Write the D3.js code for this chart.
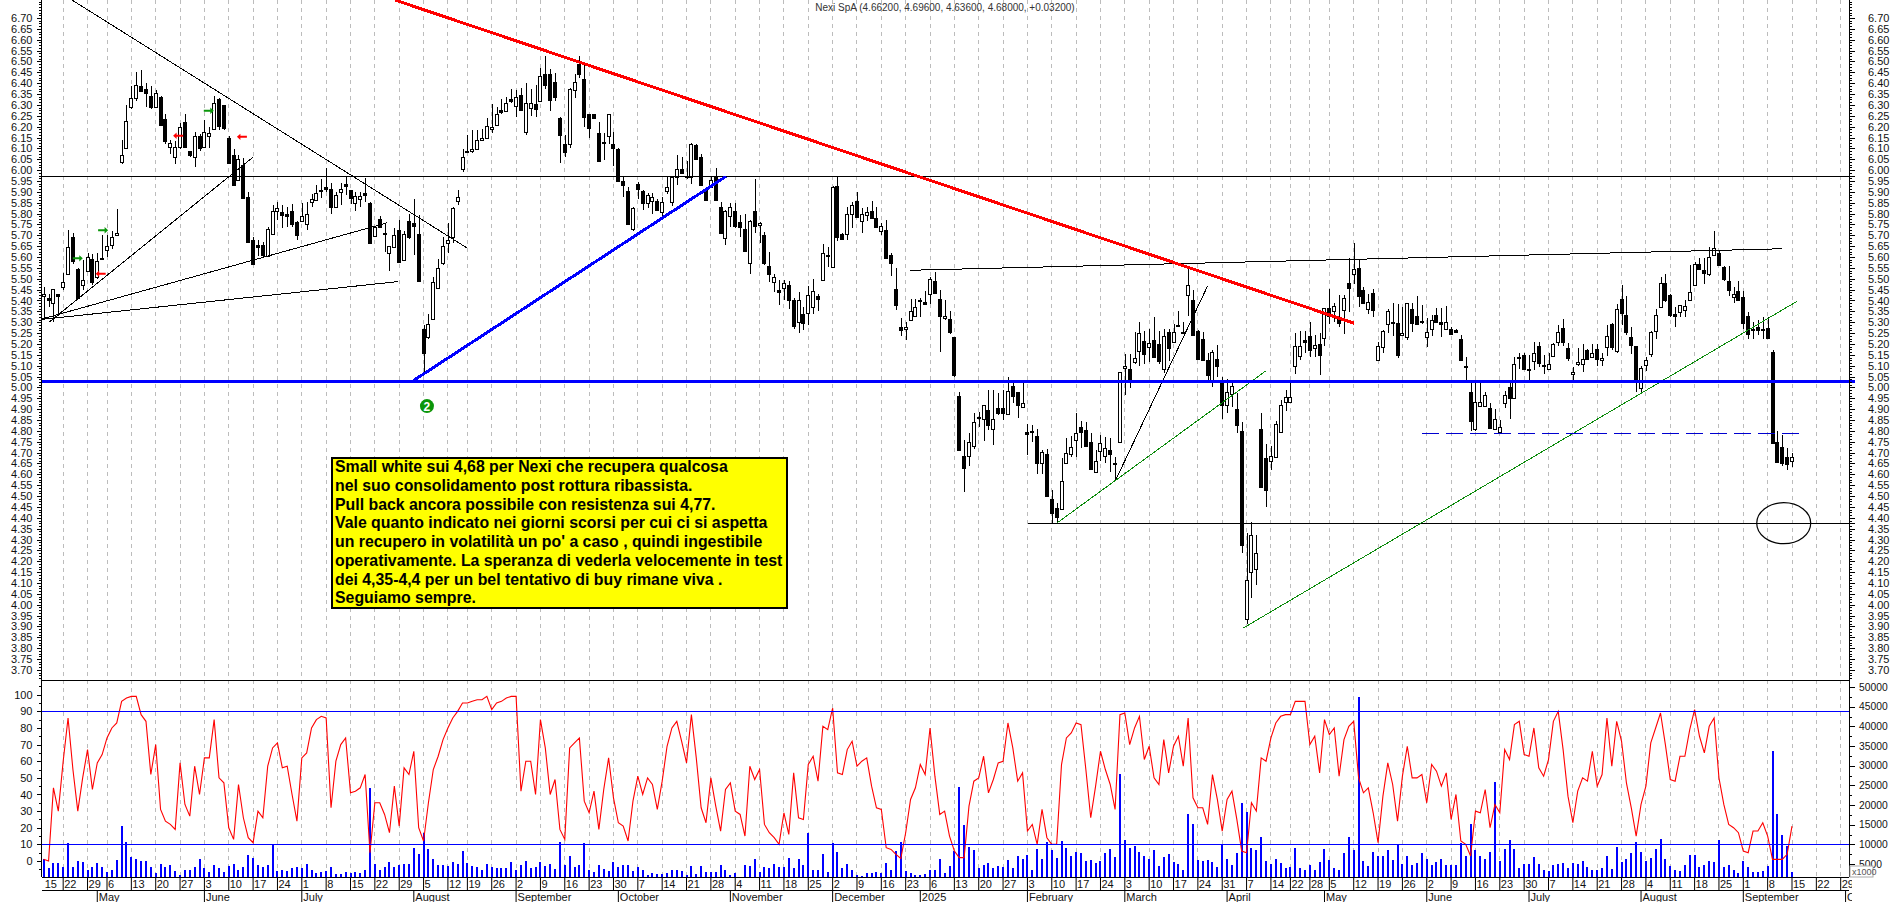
<!DOCTYPE html>
<html>
<head>
<meta charset="utf-8">
<title>Nexi SpA</title>
<script src="https://d3js.org/d3.v7.min.js"></script>
<style>
  html, body { margin: 0; padding: 0; background: #fff; }
  svg { display: block; }
  text { font-family: "Liberation Sans", Arial, sans-serif; fill: #111; }
  .tick text { font-size: 11px; }
  .vol .tick text { font-size: 10.3px; }
  .domain { stroke: #000; }
</style>
</head>
<body>
<div id="chart"></div>
<script>
// candles, one entry per trading day (15 Apr 2024 -> 15 Sep 2025)
const opens = [
  5.42,5.41,5.39,5.43,5.46,5.52,5.69,5.545,5.47,5.535,
  5.59,5.505,5.59,5.63,5.655,5.70,6.04,6.10,6.29,6.33,
  6.385,6.375,6.34,6.29,6.335,6.235,6.105,6.06,6.11,6.22,
  6.09,6.06,6.155,6.105,6.155,6.19,6.325,6.30,6.15,6.07,
  5.955,6.025,5.875,5.68,5.655,5.655,5.605,5.705,5.81,5.805,
  5.80,5.81,5.76,5.765,5.755,5.85,5.865,5.91,5.92,5.915,
  5.83,5.90,5.935,5.91,5.85,5.865,5.895,5.85,5.70,5.775,
  5.71,5.62,5.645,5.725,5.585,5.765,5.755,5.705,5.27,5.23,
  5.315,5.46,5.57,5.665,5.69,5.855,6.005,6.09,6.085,6.10,
  6.14,6.15,6.19,6.21,6.275,6.275,6.325,6.295,6.345,6.175,
  6.285,6.305,6.32,6.44,6.44,6.405,6.24,6.12,6.12,6.37,
  6.49,6.42,6.26,6.26,6.17,6.13,6.16,6.12,6.095,5.95,
  5.905,5.73,5.935,5.905,5.85,5.855,5.86,5.81,5.90,5.855,
  5.97,6.005,5.975,5.97,6.115,6.06,5.91,5.925,5.97,5.83,
  5.685,5.79,5.81,5.76,5.73,5.57,5.81,5.745,5.70,5.56,
  5.485,5.45,5.455,5.47,5.40,5.30,5.34,5.34,5.37,5.42,
  5.495,5.61,5.55,5.925,5.705,5.71,5.80,5.86,5.77,5.79,
  5.81,5.78,5.72,5.725,5.61,5.455,5.28,5.27,5.31,5.33,
  5.395,5.395,5.43,5.49,5.405,5.32,5.315,5.23,4.96,4.685,
  4.685,4.73,4.865,4.855,4.895,4.81,4.905,4.905,4.88,5.005,
  4.98,4.91,4.795,4.80,4.775,4.655,4.695,4.485,4.445,4.44,
  4.655,4.695,4.76,4.82,4.805,4.75,4.61,4.71,4.685,4.71,
  4.65,4.75,5.09,5.085,5.115,5.165,5.215,5.185,5.22,5.20,
  5.085,5.255,5.21,5.285,5.255,5.425,5.40,5.26,5.225,5.125,
  5.035,5.13,5.025,4.92,4.97,4.90,4.80,3.935,4.15,4.165,
  4.81,4.675,4.66,4.68,4.795,4.93,4.93,5.10,5.145,5.22,
  5.235,5.18,5.20,5.225,5.365,5.35,5.32,5.355,5.48,5.52,
  5.55,5.45,5.365,5.435,5.125,5.185,5.29,5.30,5.295,5.24,
  5.235,5.36,5.33,5.305,5.23,5.27,5.335,5.30,5.27,5.27,
  5.265,5.225,5.10,4.98,4.81,4.915,4.915,4.905,4.81,4.795,
  4.93,5.00,4.955,5.14,5.15,5.085,5.125,5.19,5.105,5.085,
  5.145,5.21,5.275,5.18,5.06,5.105,5.105,5.17,5.14,5.175,
  5.125,5.185,5.29,5.165,5.405,5.335,5.23,5.19,5.00,5.10,
  5.155,5.26,5.37,5.48,5.425,5.34,5.35,5.355,5.405,5.475,
  5.57,5.54,5.52,5.61,5.62,5.555,5.49,5.415,5.445,5.415,
  5.33,5.27,5.28,5.27,5.275,5.165,4.75,4.725,4.68,4.662
];
const highs = [
  5.46,5.43,5.455,5.43,5.525,5.725,5.71,5.55,5.585,5.62,
  5.615,5.62,5.70,5.70,5.72,5.82,6.14,6.30,6.385,6.45,
  6.46,6.40,6.385,6.37,6.34,6.26,6.14,6.135,6.215,6.26,
  6.09,6.175,6.165,6.23,6.20,6.34,6.33,6.30,6.155,6.095,
  6.07,6.055,5.90,5.69,5.68,5.67,5.74,5.84,5.855,5.84,
  5.83,5.845,5.765,5.85,5.855,5.89,5.93,5.96,6.01,5.94,
  5.90,5.94,5.97,5.91,5.90,5.90,5.965,5.855,5.74,5.79,
  5.755,5.65,5.735,5.77,5.72,5.80,5.865,5.795,5.285,5.34,
  5.51,5.59,5.69,5.755,5.83,5.91,6.095,6.16,6.185,6.185,
  6.19,6.24,6.305,6.29,6.325,6.335,6.375,6.37,6.38,6.40,
  6.375,6.39,6.47,6.525,6.465,6.445,6.245,6.16,6.38,6.44,
  6.525,6.49,6.26,6.26,6.22,6.17,6.26,6.175,6.10,5.97,
  5.92,5.83,5.945,5.91,5.895,5.895,5.865,5.875,5.97,5.97,
  6.07,6.06,6.04,6.125,6.12,6.075,5.915,5.97,6.01,5.855,
  5.815,5.85,5.85,5.795,5.80,5.77,5.96,5.76,5.715,5.625,
  5.52,5.495,5.495,5.49,5.41,5.44,5.37,5.465,5.50,5.43,
  5.66,5.645,5.925,5.97,5.71,5.83,5.855,5.90,5.825,5.83,
  5.86,5.83,5.755,5.77,5.62,5.55,5.32,5.30,5.405,5.405,
  5.41,5.445,5.51,5.53,5.45,5.40,5.35,5.23,4.98,4.76,
  4.79,4.88,4.885,4.92,4.99,4.99,4.975,4.99,5.05,5.03,
  4.98,5.025,4.83,4.825,4.81,4.71,4.715,4.53,4.47,4.675,
  4.765,4.775,4.88,4.845,4.84,4.79,4.71,4.78,4.77,4.765,
  4.68,5.07,5.155,5.155,5.255,5.30,5.26,5.27,5.325,5.26,
  5.27,5.27,5.29,5.35,5.30,5.55,5.45,5.265,5.255,5.16,
  5.17,5.195,5.05,5.04,5.03,4.975,4.84,4.33,4.38,4.32,
  4.88,4.74,4.73,4.845,4.94,4.99,5.025,5.25,5.26,5.26,
  5.30,5.24,5.25,5.365,5.455,5.39,5.425,5.425,5.595,5.665,
  5.59,5.46,5.43,5.455,5.21,5.265,5.36,5.39,5.385,5.37,
  5.39,5.39,5.42,5.38,5.32,5.335,5.365,5.365,5.375,5.28,
  5.27,5.24,5.14,5.02,5.02,5.02,4.98,4.93,4.90,4.85,
  4.985,5.02,5.14,5.16,5.16,5.15,5.21,5.21,5.15,5.16,
  5.205,5.285,5.315,5.205,5.095,5.18,5.20,5.175,5.20,5.20,
  5.16,5.285,5.295,5.385,5.47,5.42,5.28,5.19,5.10,5.14,
  5.26,5.36,5.51,5.52,5.43,5.37,5.38,5.40,5.565,5.575,
  5.595,5.595,5.645,5.72,5.63,5.56,5.56,5.46,5.49,5.445,
  5.345,5.30,5.31,5.325,5.325,5.17,4.80,4.78,4.72,4.696
];
const lows = [
  5.32,5.37,5.30,5.33,5.45,5.52,5.57,5.41,5.45,5.53,
  5.47,5.50,5.59,5.60,5.635,5.695,6.03,6.10,6.28,6.32,
  6.36,6.29,6.28,6.29,6.205,6.12,6.075,6.03,6.095,6.10,
  6.06,6.015,6.09,6.10,6.10,6.185,6.185,6.185,6.035,5.93,
  5.95,5.875,5.665,5.57,5.605,5.60,5.60,5.70,5.77,5.735,
  5.74,5.74,5.68,5.76,5.725,5.83,5.86,5.87,5.90,5.80,
  5.825,5.84,5.885,5.845,5.81,5.83,5.855,5.665,5.695,5.735,
  5.625,5.535,5.645,5.575,5.58,5.685,5.61,5.49,5.065,5.225,
  5.31,5.455,5.565,5.62,5.665,5.84,5.99,6.085,6.08,6.095,
  6.14,6.15,6.17,6.205,6.26,6.27,6.31,6.245,6.27,6.16,
  6.25,6.245,6.32,6.375,6.27,6.32,6.035,6.06,6.10,6.33,
  6.425,6.20,6.15,6.24,6.04,6.045,6.12,6.02,5.95,5.875,
  5.75,5.72,5.865,5.815,5.825,5.80,5.81,5.785,5.89,5.835,
  5.93,5.985,5.96,5.935,6.05,5.93,5.865,5.92,5.865,5.71,
  5.655,5.74,5.735,5.69,5.625,5.52,5.71,5.665,5.565,5.485,
  5.44,5.38,5.40,5.36,5.27,5.25,5.265,5.285,5.34,5.35,
  5.49,5.555,5.55,5.675,5.68,5.68,5.735,5.785,5.71,5.765,
  5.775,5.735,5.70,5.59,5.515,5.355,5.235,5.22,5.305,5.33,
  5.325,5.385,5.385,5.43,5.165,5.31,5.245,5.05,4.71,4.52,
  4.64,4.715,4.82,4.755,4.805,4.735,4.875,4.85,4.875,4.93,
  4.86,4.905,4.69,4.75,4.60,4.60,4.495,4.375,4.375,4.435,
  4.65,4.68,4.68,4.72,4.73,4.62,4.605,4.66,4.65,4.61,
  4.575,4.75,4.965,4.995,5.11,5.10,5.11,5.115,5.135,5.11,
  5.065,5.12,5.21,5.28,5.245,5.33,5.235,5.13,5.12,5.035,
  5.00,5.05,4.855,4.88,4.91,4.79,4.24,3.91,4.03,4.09,
  4.545,4.45,4.62,4.675,4.79,4.89,4.93,5.06,5.125,5.16,
  5.14,5.14,5.055,5.19,5.29,5.30,5.28,5.245,5.345,5.475,
  5.37,5.385,5.34,5.325,5.12,5.16,5.25,5.235,5.135,5.235,
  5.22,5.255,5.29,5.29,5.185,5.235,5.30,5.23,5.265,5.24,
  5.25,5.125,5.035,4.80,4.80,4.91,4.91,4.81,4.805,4.79,
  4.905,4.855,4.95,5.085,5.08,5.025,5.08,5.095,5.06,5.08,
  5.14,5.19,5.19,5.12,5.025,5.10,5.07,5.125,5.135,5.10,
  5.10,5.145,5.17,5.16,5.285,5.24,5.155,4.98,4.975,5.075,
  5.14,5.225,5.365,5.395,5.325,5.28,5.325,5.325,5.40,5.47,
  5.54,5.475,5.515,5.605,5.56,5.49,5.42,5.39,5.40,5.27,
  5.225,5.225,5.24,5.225,5.225,4.745,4.65,4.64,4.62,4.636
];
const closes = [
  5.43,5.40,5.455,5.42,5.485,5.645,5.58,5.41,5.495,5.60,
  5.485,5.58,5.595,5.65,5.69,5.71,6.07,6.225,6.33,6.39,
  6.36,6.355,6.29,6.355,6.205,6.135,6.125,6.105,6.20,6.105,
  6.07,6.155,6.10,6.175,6.17,6.31,6.20,6.195,6.035,5.93,
  6.05,5.875,5.67,5.57,5.645,5.61,5.73,5.81,5.825,5.79,
  5.79,5.75,5.70,5.79,5.80,5.865,5.895,5.905,5.91,5.83,
  5.885,5.915,5.925,5.875,5.88,5.88,5.885,5.665,5.74,5.74,
  5.705,5.65,5.70,5.58,5.705,5.69,5.74,5.49,5.16,5.29,
  5.485,5.55,5.65,5.68,5.825,5.875,6.06,6.09,6.095,6.14,
  6.15,6.205,6.20,6.26,6.265,6.31,6.315,6.335,6.275,6.31,
  6.31,6.28,6.435,6.39,6.32,6.335,6.16,6.085,6.375,6.405,
  6.445,6.245,6.195,6.24,6.04,6.125,6.26,6.10,5.95,5.93,
  5.755,5.825,5.91,5.85,5.885,5.875,5.82,5.855,5.92,5.97,
  6.005,5.985,5.97,6.12,6.05,5.93,5.865,5.955,5.865,5.71,
  5.81,5.83,5.74,5.735,5.63,5.765,5.74,5.755,5.57,5.525,
  5.51,5.44,5.48,5.40,5.28,5.40,5.30,5.425,5.445,5.405,
  5.62,5.605,5.92,5.69,5.68,5.80,5.84,5.785,5.80,5.805,
  5.78,5.74,5.745,5.595,5.575,5.38,5.265,5.28,5.35,5.37,
  5.40,5.385,5.50,5.435,5.325,5.33,5.255,5.055,4.71,4.63,
  4.75,4.84,4.86,4.92,4.825,4.855,4.88,4.88,4.985,4.96,
  4.92,4.93,4.785,4.795,4.65,4.705,4.50,4.42,4.405,4.57,
  4.70,4.725,4.79,4.795,4.73,4.625,4.66,4.745,4.72,4.69,
  4.645,5.07,5.10,5.025,5.135,5.25,5.155,5.205,5.14,5.12,
  5.235,5.18,5.255,5.28,5.25,5.47,5.24,5.13,5.13,5.055,
  5.165,5.10,4.92,4.98,5.005,4.825,4.275,4.115,4.32,4.24,
  4.545,4.53,4.685,4.83,4.92,4.955,4.955,5.19,5.19,5.21,
  5.17,5.195,5.15,5.365,5.33,5.375,5.295,5.41,5.455,5.545,
  5.42,5.39,5.395,5.355,5.19,5.26,5.35,5.295,5.15,5.25,
  5.39,5.295,5.295,5.30,5.255,5.31,5.305,5.29,5.30,5.245,
  5.255,5.13,5.095,4.845,4.935,4.935,4.965,4.815,4.855,4.82,
  4.965,4.95,5.11,5.135,5.085,5.08,5.16,5.11,5.10,5.11,
  5.20,5.255,5.21,5.135,5.07,5.115,5.13,5.13,5.16,5.13,
  5.135,5.235,5.185,5.36,5.34,5.255,5.195,5.035,5.09,5.125,
  5.255,5.335,5.48,5.40,5.335,5.33,5.38,5.375,5.44,5.57,
  5.545,5.525,5.60,5.64,5.565,5.50,5.45,5.43,5.405,5.295,
  5.245,5.265,5.265,5.265,5.23,4.745,4.66,4.65,4.648,4.68
];

// lower panel: oscillator (left scale, red) and volume in thousands (right scale, blue)
const oscillator = [
  1,0,44,30,60,86,55,30,50,67,
  43,59,64,74,80,83,96,98,99,99,
  88,84,52,70,31,24,22,19,59,34,
  27,57,40,62,62,85,50,47,20,13,
  46,26,14,11,30,26,57,68,71,56,
  57,40,24,62,65,80,85,87,86,32,
  60,70,74,41,42,44,52,5,35,35,
  28,17,45,21,56,52,66,20,12,35,
  55,63,73,80,86,90,95,95,96,97,
  97,99,91,95,96,98,99,99,42,60,
  60,40,85,68,40,49,19,13,68,71,
  74,36,29,42,19,43,62,38,23,21,
  12,36,51,40,50,46,31,48,69,80,
  84,72,59,88,62,32,23,50,33,18,
  43,47,30,28,15,57,49,55,22,17,
  14,10,29,16,53,26,25,58,63,48,
  81,79,92,53,52,67,72,57,60,62,
  45,32,31,8,7,4,1.5,17,37,44,
  58,52,80,51,28,30,15,6,2,2,
  33,48,50,63,41,49,59,60,83,68,
  48,53,18,22,10,31,14,10,10,58,
  74,77,83,82,55,26,45,66,55,46,
  31,88,89,70,80,87,61,69,50,46,
  73,53,69,75,57,86,38,32,32,22,
  52,37,18,37,42,25,6,5,35,30,
  62,60,74,83,87,88,88,96,96,96,
  70,75,53,85,76,80,51,73,81,84,
  50,41,44,29,11,39,59,46,24,51,
  69,50,50,52,35,58,54,45,53,25,
  40,12,10,3,30,29,43,20,34,29,
  67,61,82,84,64,63,80,56,51,61,
  84,90,67,39,23,42,50,48,66,45,
  52,86,57,84,72,47,32,15,34,45,
  71,80,89,70,49,48,63,63,79,91,
  75,65,81,86,50,34,22,20,17,6,
  5,18,18,23,15,1,1,1,4,21
];
const volumes = [
  6.3,3.9,5.2,5.2,4.2,10.3,4.2,5.8,5.4,3.5,
  4.3,5.3,4.3,2.9,3.6,6,14.7,10.5,6.7,6.3,
  5.7,5.8,4.2,2.6,5,4.3,4.7,3.2,2.2,3.6,
  3.4,4.2,6.4,3.9,2.9,4.7,3.9,2.9,4.6,5,
  3.6,4.3,7.3,6.5,4.7,4.2,4.7,10,3.3,3.5,
  3.3,4,4.2,4,5,3.4,2.8,3,3.3,4.3,
  2.4,2.4,2.9,2.6,2.9,2.7,3.4,24.2,5,3.6,
  4.3,5.4,4.2,4.7,5,5,9.2,7.5,12.8,8.7,
  6.4,4.7,4.7,4.5,5.6,5,8.3,5.2,4.6,4.3,
  3.6,4.9,4.3,4,4,4,5.5,3.6,4.7,5.8,
  4,4.2,5.4,4.4,4.9,3.7,10.5,4.7,7,4.3,
  4.7,10.3,3.5,2.9,4.7,3.7,3.3,5.5,4.3,4.7,
  4.7,3.3,4.2,3.5,2.1,2.6,2.4,2.5,2.6,3.4,
  3.6,3.2,2.2,4.4,2.4,4.4,3,3.1,3.1,4.7,
  3.6,2.2,2.7,1.8,4.7,4.4,6.2,3.1,4.2,3.9,
  5,4.2,4.2,6.5,3.9,6.3,4.7,13,3.6,3.4,
  7.5,3.1,10.3,8,4,5,3.5,2.2,1.9,2.6,
  2.6,3.1,2.6,5.2,3.5,8.2,10.5,3.3,2.6,2.3,
  2.3,2.5,3.4,3.4,6.3,2.6,4.4,8.2,24.5,14.8,
  9.3,8.6,4,4.7,5.3,4,4.5,4.2,6,3.9,
  7,6.3,7.2,3.5,8.7,6.3,10.5,8.6,6.5,10.8,
  9,7.1,8,7.7,5.7,6,5.2,5.7,7.7,8.8,
  6.9,27.8,11.1,9.2,9.6,8,7,6.3,8.5,4.6,
  6.7,7.5,5.4,5,3.5,17.7,15.2,6,5.7,6,
  5.6,4.3,10,6.4,4.7,7.7,20.4,18.2,9.2,8.6,
  11.9,5.8,5,6.3,5.2,3.9,4.2,9,3.9,3.6,
  4.7,3.4,5.5,8.8,6,4,3.5,7.7,11.9,8.6,
  47.4,5.7,4.5,8,7.1,7.1,8.6,6,10.1,5.1,
  7,4.8,5.2,7.8,6.4,4.8,5.4,6.4,4.7,4.7,
  4.7,10.4,7.1,15.2,8.6,7,6.4,8,25.8,5.8,
  8.8,11.1,8.8,4,5,5,6.8,5,3.5,3.3,
  4.7,4.9,5.2,3.9,5.3,5,5.7,4.2,3.5,3.5,
  4,7,3.7,9.3,5.4,6.2,7.7,10.5,8,5.7,
  6.5,8.8,11.4,6.3,4.4,3.5,3.2,4.7,7.3,7.2,
  4.2,4.7,5.8,5.4,11.1,4.2,4.7,3.5,2.7,5.7,
  4.2,2.9,2.9,3.3,4.4,33.7,17.6,12.5,9.6,3
];

// date strip: bar index of each Monday and of each month start
const weekBars = [0,4,9,13,18,23,28,33,38,43,48,53,58,63,68,73,78,83,87,92,97,102,107,112,117,122,127,132,137,142,147,152,157,162,167,172,177,182,187,192,197,202,207,212,217,222,227,232,237,242,247,252,256,260,264,269,274,279,284,289,294,299,304,309,314,319,324,329,334,339,344,349,354,359,364,369];
const weekLabels = ["15","22","29","6","13","20","27","3","10","17","24","1","8","15","22","29","5","12","19","26","2","9","16","23","30","7","14","21","28","4","11","18","25","2","9","16","23","6","13","20","27","3","10","17","24","3","10","17","24","31","7","14","22","28","5","12","19","26","2","9","16","23","30","7","14","21","28","4","11","18","25","1","8","15","22","29"];
const monthBars = [11,33,53,76,97,118,141,162,180,202,222,243,263,284,305,328,349,370];
const monthLabels = ["May","June","July","August","September","October","November","December","2025","February","March","April","May","June","July","August","September","October"];

// drawn annotations, [bar, price, bar, price]
const thinBlackLines = [[5.8,6.783,86.9,5.642],[1.1,5.30,43,6.06],[-0.35,5.315,70.6,5.758],[-0.4,5.313,72.8,5.487],[177.9,5.539,356.9,5.638],[220.2,4.577,239,5.467]];
const redLines = [[72.1,6.783,269.1,5.295]];
const blueLines = [[75.9,5.031,140.1,5.971]];
const greenLines = [[208,4.375,250.9,5.075],[246.2,3.891,360,5.396]];
const supportLevels = [[-0.5,5.972,372,5.972],[202.2,4.375,372,4.375]];
const blueLevel = [[-0.5,5.025,372,5.025]];
const dashedLevel = [[283,4.789,360.5,4.789]];
const greenArrows = [[33.9,6.273],[7,5.594],[12.2,5.723]];
const redArrows = [[27.6,6.158],[40.7,6.153],[11.7,5.523]];
const noteLines = [
  "Small white sui 4,68 per Nexi che recupera qualcosa",
  "nel suo consolidamento post rottura ribassista.",
  "Pull back ancora possibile con resistenza sui 4,77.",
  "Vale quanto indicato nei giorni scorsi per cui ci si aspetta",
  "un recupero in volatilità un po' a caso , quindi ingestibile",
  "operativamente. La speranza di vederla velocemente in test",
  "dei 4,35-4,4 per un bel tentativo di buy rimane viva .",
  "Seguiamo sempre."
];

var left = 41.5, right = 1849, panelSplit = 680, panelBottom = 877;

const svg = d3.select('#chart')
    .append("svg")
    .attr("width", 1890)
    .attr("height", 902);

var x = d3.scaleLinear().domain([0, 359]).range([43.7, 1792]);
var y = d3.scaleLinear().domain([6.7, 3.7]).range([18, 669.9]);
var yOsc = d3.scaleLinear().domain([0, 100]).range([861, 694.7]);
var yVol = d3.scaleLinear().domain([0, 50]).range([883.7, 687]);

// dashed week grid
svg.append("g").selectAll("line")
    .data(weekBars.slice(1))
    .enter().append("line")
    .attr("x1", d => x(d)).attr("x2", d => x(d))
    .attr("y1", 0).attr("y2", panelBottom)
    .attr("stroke", "#bcbcbc")
    .attr("stroke-dasharray", "4,4")
    .attr("shape-rendering", "crispEdges");

// candles
const days = d3.range(opens.length);
const candles = svg.append("g");
candles.selectAll("line")
    .data(days)
    .enter().append("line")
    .attr("x1", i => Math.round(x(i))).attr("x2", i => Math.round(x(i)))
    .attr("y1", i => y(highs[i])).attr("y2", i => y(lows[i]))
    .attr("stroke", "#000")
    .attr("shape-rendering", "crispEdges");
candles.selectAll("rect")
    .data(days)
    .enter().append("rect")
    .attr("x", i => Math.round(x(i)) - 1.5)
    .attr("y", i => Math.round(y(Math.max(opens[i], closes[i]))) + 0.5)
    .attr("width", 3)
    .attr("height", i => Math.max(Math.round(Math.abs(y(opens[i]) - y(closes[i]))), 1))
    .attr("fill", i => closes[i] >= opens[i] ? "#fff" : "#000")
    .attr("stroke", "#000")
    .attr("shape-rendering", "crispEdges");

// trend lines on top of the candles, aliased like the source
const lineLayer = svg.append("g").attr("shape-rendering", "crispEdges");
function drawLines(rows, color, width, dash) {
    lineLayer.selectAll(null)
        .data(rows)
        .enter().append("line")
        .attr("x1", d => x(d[0])).attr("y1", d => y(d[1]))
        .attr("x2", d => x(d[2])).attr("y2", d => y(d[3]))
        .attr("stroke", color)
        .attr("stroke-width", width)
        .attr("stroke-dasharray", dash || null);
}
drawLines(thinBlackLines, "#000", 1);
drawLines(supportLevels, "#000", 1);
drawLines(greenLines, "#0a8a0a", 1);
drawLines(blueLevel, "#0000ff", 3);
drawLines(blueLines, "#0000ff", 3);
drawLines(redLines, "#ff0000", 3);
drawLines(dashedLevel, "#0000d0", 1, "17,7");

// circled target zone
svg.append("ellipse")
    .attr("cx", x(357.3)).attr("cy", y(4.375))
    .attr("rx", 27).attr("ry", 20.5)
    .attr("fill", "none").attr("stroke", "#000").attr("stroke-width", 1.2);

// small arrows
const arrowPath = "M-5,-1H1.5V-3.2L5,0L1.5,3.2V1H-5Z";
svg.append("g").selectAll("path")
    .data(greenArrows)
    .enter().append("path")
    .attr("d", arrowPath)
    .attr("fill", "#0a960a")
    .attr("transform", d => "translate(" + x(d[0]) + "," + y(d[1]) + ")");
svg.append("g").selectAll("path")
    .data(redArrows)
    .enter().append("path")
    .attr("d", arrowPath)
    .attr("fill", "#ff0000")
    .attr("transform", d => "translate(" + x(d[0]) + "," + y(d[1]) + ") scale(-1,1)");

// numbered marker
svg.append("circle")
    .attr("cx", x(78.7)).attr("cy", y(4.914)).attr("r", 7)
    .attr("fill", "#0a960a");
svg.append("text")
    .attr("x", x(78.7)).attr("y", y(4.914) + 4.5)
    .attr("text-anchor", "middle")
    .style("font-size", "12px").style("font-weight", "bold").style("fill", "#fff")
    .text("2");

// yellow comment box
svg.append("rect")
    .attr("x", 332).attr("y", 458)
    .attr("width", 455).attr("height", 150)
    .attr("fill", "#ffff00")
    .attr("stroke", "#000").attr("stroke-width", 2);
svg.append("g").selectAll("text")
    .data(noteLines)
    .enter().append("text")
    .attr("x", 335)
    .attr("y", (d, i) => 472 + i * 18.75)
    .style("font-size", "15.85px").style("font-weight", "bold").style("fill", "#000")
    .text(d => d);

// lower panel
svg.append("g").selectAll("rect")
    .data(days)
    .enter().append("rect")
    .attr("x", i => Math.round(x(i)) - 1)
    .attr("y", i => yVol(volumes[i]))
    .attr("width", 2)
    .attr("height", i => panelBottom - yVol(volumes[i]))
    .attr("fill", "#0000ff")
    .attr("shape-rendering", "crispEdges");
svg.append("path")
    .attr("d", d3.line().x(i => x(i)).y(i => yOsc(oscillator[i]))(days))
    .attr("fill", "none")
    .attr("stroke", "#ff0000")
    .attr("stroke-width", 1.1);
[90, 10].forEach(function (level) {
    svg.append("line")
        .attr("x1", left).attr("x2", right)
        .attr("y1", yOsc(level)).attr("y2", yOsc(level))
        .attr("stroke", "#0000ff")
        .attr("shape-rendering", "crispEdges");
});

// panel frame lines
[panelSplit, panelBottom, 890].forEach(function (pos) {
    svg.append("line")
        .attr("x1", left).attr("x2", right)
        .attr("y1", pos).attr("y2", pos)
        .attr("stroke", "#000")
        .attr("shape-rendering", "crispEdges");
});

// price axes
const priceMajor = d3.range(0, 61).map(n => +(3.7 + n * 0.05).toFixed(2));
const priceMinor = d3.range(-4, 248).map(n => 3.7 + n * 0.0125);

function addAxis(axis, posX) {
    const g = svg.append("g")
        .attr("transform", "translate(" + posX + ",0)")
        .call(axis);
    g.select(".domain").remove();
    g.selectAll(".tick line").attr("shape-rendering", "crispEdges");
    return g;
}
const minorOnPanel = priceMinor.filter(v => y(v) >= 0 && y(v) <= panelSplit);
addAxis(d3.axisLeft(y).tickValues(minorOnPanel).tickSize(3).tickFormat(""), left);
addAxis(d3.axisLeft(y).tickValues(priceMajor).tickSize(5).tickPadding(4).tickFormat(d3.format(".2f")), left);
addAxis(d3.axisRight(y).tickValues(minorOnPanel).tickSize(3).tickFormat(""), right);
addAxis(d3.axisRight(y).tickValues(priceMajor).tickSize(6).tickPadding(13).tickFormat(d3.format(".2f")), right);

// oscillator and volume axes
addAxis(d3.axisLeft(yOsc).tickValues(d3.range(-5, 110, 5).filter(v => v % 10 !== 0)).tickSize(3).tickFormat(""), left);
addAxis(d3.axisLeft(yOsc).tickValues(d3.range(0, 101, 10)).tickSize(5).tickPadding(4), left);
addAxis(d3.axisRight(yVol).tickValues(d3.range(2.5, 50, 5)).tickSize(3).tickFormat(""), right);
addAxis(d3.axisRight(yVol).tickValues(d3.range(5, 51, 5)).tickSize(6).tickPadding(4).tickFormat(d => d * 1000), right)
    .attr("class", "vol");

// axis spines
[left, right].forEach(function (posX) {
    svg.append("line")
        .attr("x1", posX).attr("x2", posX)
        .attr("y1", 0).attr("y2", panelBottom)
        .attr("stroke", "#000")
        .attr("shape-rendering", "crispEdges");
});

// x1000 tag next to the volume axis
svg.append("rect")
    .attr("x", 1850).attr("y", 866)
    .attr("width", 23).attr("height", 11)
    .attr("fill", "#fff").attr("stroke", "#aaa");
svg.append("text")
    .attr("x", 1852).attr("y", 875)
    .style("font-size", "9px").style("fill", "#555")
    .text("x1000");

// date strip
svg.append("defs").append("clipPath").attr("id", "strip")
    .append("rect").attr("x", left).attr("y", panelBottom).attr("width", right - left + 3).attr("height", 25);
const strip = svg.append("g").attr("clip-path", "url(#strip)");
strip.selectAll("line.week")
    .data(weekBars.slice(1))
    .enter().append("line")
    .attr("class", "week")
    .attr("x1", d => x(d)).attr("x2", d => x(d))
    .attr("y1", panelBottom).attr("y2", 890)
    .attr("stroke", "#000");
strip.selectAll("text.week")
    .data(weekLabels)
    .enter().append("text")
    .attr("class", "week")
    .attr("x", (d, i) => x(weekBars[i]) + 1)
    .attr("y", 888)
    .style("font-size", "11px")
    .text(d => d);
strip.selectAll("line.month")
    .data(monthBars)
    .enter().append("line")
    .attr("class", "month")
    .attr("x1", d => x(d)).attr("x2", d => x(d))
    .attr("y1", 890).attr("y2", 902)
    .attr("stroke", "#000");
strip.selectAll("text.month")
    .data(monthLabels)
    .enter().append("text")
    .attr("class", "month")
    .attr("x", (d, i) => x(monthBars[i]) + 1.5)
    .attr("y", 901)
    .style("font-size", "11px")
    .text(d => d);

// title
svg.append("text")
    .attr("x", 945).attr("y", 11)
    .attr("text-anchor", "middle")
    .style("font-size", "10px").style("fill", "#333")
    .text("Nexi SpA (4.66200, 4.69600, 4.63600, 4.68000, +0.03200)");
</script>
</body>
</html>
